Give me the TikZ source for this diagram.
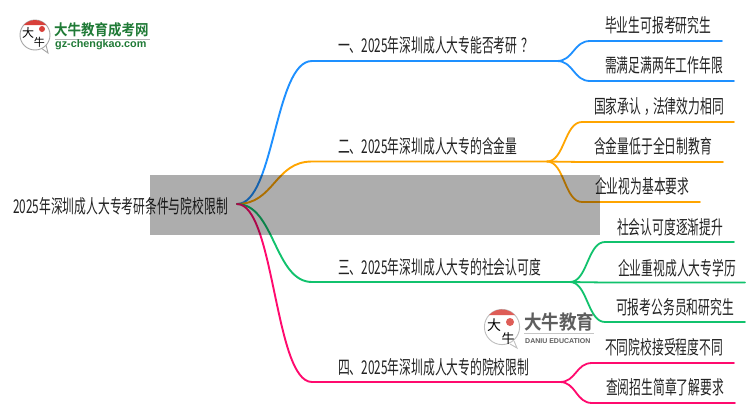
\documentclass[tikz,border=0pt]{standalone}
\usepackage{fontspec}
\newfontfamily\cjk[FakeStretch=0.62]{Noto Sans CJK SC}
\newfontfamily\cjkthin{Noto Sans CJK SC}
\newfontfamily\cjkb[FakeStretch=0.9]{Noto Sans CJK SC Bold}
\newfontfamily\latb{Liberation Sans}
\usetikzlibrary{calc}
\definecolor{cblue}{HTML}{1E90FF}
\definecolor{corange}{HTML}{FFA500}
\definecolor{cgreen}{HTML}{11C26D}
\definecolor{cpink}{HTML}{FF0A6E}
\definecolor{ltext}{HTML}{222222}
\definecolor{lgreen}{HTML}{1F7A36}
\definecolor{lred}{HTML}{D8403A}
\definecolor{lgray}{HTML}{5E5E5E}
\tikzset{
  lbl/.style={inner sep=0pt,anchor=west,text=ltext,font=\fontsize{19}{21}\selectfont\cjk},
  trunk/.style={line width=1.9pt,line cap=round},
  twig/.style={line width=1.8pt,line cap=round},
  mask/.style={fill=black,fill opacity=0.32,draw=none},
  logomark/.style={inner sep=0pt,text=black}
}
\newcommand{\scurve}[4][]{\coordinate (tmpm) at ($(#2)!0.5!(#3)$);\draw[#1] (#2) .. controls (tmpm |- #2) and (tmpm |- #3) .. (#3) -- (#4);}
\begin{document}
\begin{tikzpicture}[x=1pt,y=-1pt]
\useasboundingbox (0,0) rectangle (750,410);
\fill[white] (0,0) rectangle (750,410);
% root
\node[lbl] (root) at (13,206) {2025年深圳成人大专考研条件与院校限制};
\coordinate (r) at (237,204);
% branch labels
\node[lbl] (b1) at (338,45) {一、2025年深圳成人大专能否考研\kern4pt？\kern-4pt};
\node[lbl] (b2) at (338,146) {二、2025年深圳成人大专的含金量};
\node[lbl] (b3) at (338,267) {三、2025年深圳成人大专的社会认可度};
\node[lbl] (b4) at (338,367) {四、2025年深圳成人大专的院校限制};
% leaf labels
\node[lbl] (l11) at (605,25) {毕业生可报考研究生};
\node[lbl] (l12) at (605,65) {需满足满两年工作年限};
\node[lbl] (l21) at (594,106) {国家承认\kern3pt，\kern-3pt法律效力相同};
\node[lbl] (l22) at (594,146) {含金量低于全日制教育};
\node[lbl] (l23) at (595,186) {企业视为基本要求};
\node[lbl] (l31) at (617,227) {社会认可度逐渐提升};
\node[lbl] (l32) at (618,268) {企业重视成人大专学历};
\node[lbl] (l33) at (616,307) {可报考公务员和研究生};
\node[lbl] (l41) at (605,347) {不同院校接受程度不同};
\node[lbl] (l42) at (606,387) {查阅招生简章了解要求};
% junctions
\coordinate (b1a) at (312,61); \coordinate (b1z) at (557,61);
\coordinate (b2a) at (312,161.5); \coordinate (b2z) at (547,161.5);
\coordinate (b3a) at (312,282); \coordinate (b3z) at (570,282);
\coordinate (b4a) at (312,382); \coordinate (b4z) at (560,382);
\coordinate (e11a) at (590,41); \coordinate (e11z) at (722,41);
\coordinate (e12a) at (590,81); \coordinate (e12z) at (734,81);
\coordinate (e21a) at (582,122); \coordinate (e21z) at (734,122);
\coordinate (e22a) at (582,162); \coordinate (e22z) at (723,162);
\coordinate (e23a) at (582,202); \coordinate (e23z) at (700,202);
\coordinate (e31a) at (605,242); \coordinate (e31z) at (734,242);
\coordinate (e32a) at (605,282.5); \coordinate (e32z) at (745,282.5);
\coordinate (e33a) at (605,322); \coordinate (e33z) at (745,322);
\coordinate (e41a) at (592,363); \coordinate (e41z) at (734,363);
\coordinate (e42a) at (592,403); \coordinate (e42z) at (735,403);
% connectors
\scurve[trunk,cblue]{r}{b1a}{b1z}
\scurve[trunk,corange]{r}{b2a}{b2z}
\scurve[trunk,cgreen]{r}{b3a}{b3z}
\scurve[trunk,cpink]{r}{b4a}{b4z}
\scurve[twig,cblue]{b1z}{e11a}{e11z}
\scurve[twig,cblue]{b1z}{e12a}{e12z}
\scurve[twig,corange]{b2z}{e21a}{e21z}
\scurve[twig,corange]{b2z}{e22a}{e22z}
\scurve[twig,corange]{b2z}{e23a}{e23z}
\scurve[twig,cgreen]{b3z}{e31a}{e31z}
\scurve[twig,cgreen]{b3z}{e32a}{e32z}
\scurve[twig,cgreen]{b3z}{e33a}{e33z}
\scurve[twig,cpink]{b4z}{e41a}{e41z}
\scurve[twig,cpink]{b4z}{e42a}{e42z}
% grey band
\fill[mask] (150,175) rectangle (600,235);
% logo top-left
\draw[gray!70,line width=0.9pt,fill=white] (41,48) -- (48,53) -- (46,45);
\draw[gray!70,line width=0.9pt,fill=white] (35,35) circle (15);
\fill[lred] (23.9,25) arc (222:318:15) -- cycle;
\fill[lred] (42,29) circle (3);
\node[logomark,font=\fontsize{12}{12}\selectfont\cjkthin] (lga) at (28,33) {大};
\node[logomark,font=\fontsize{11}{11}\selectfont\cjkthin] (lgb) at (39.5,42.5) {牛};
\node[inner sep=0pt,anchor=west,font=\fontsize{15}{16}\selectfont\cjkb,text=lgreen] (lgc) at (54,30) {大牛教育成考网};
\draw[gray!60,line width=1pt] (55,39) -- (150,39);
\node[inner sep=0pt,anchor=west,font=\fontsize{10.8}{11}\selectfont\latb\bfseries,text=lgreen] (lgd) at (55,45) {gz-chengkao.com};
% logo lower
\draw[gray!50,line width=0.9pt,fill=white] (510,344) -- (517,348) -- (514,341);
\draw[gray!50,line width=0.9pt,fill=white] (502,327) circle (17.6);
\fill[lred!85] (488.9,315.2) arc (222:318:17.6) -- cycle;
\fill[lred!85] (510,322) circle (4);
\node[logomark,font=\fontsize{14}{14}\selectfont\cjkthin] (lge) at (494,325.5) {大};
\node[logomark,font=\fontsize{13}{13}\selectfont\cjkthin] (lgf) at (508,338.5) {牛};
\node[inner sep=0pt,anchor=west,font=\fontsize{19.5}{20}\selectfont\cjkb,text=lgray] (lgg) at (524,322) {大牛教育};
\draw[gray!45,line width=0.7pt] (524,333) -- (594,333);
\node[inner sep=0pt,anchor=west,font=\fontsize{7}{8}\selectfont\latb\bfseries,text=lgray] (lgh) at (525,341) {DANIU EDUCATION};
\end{tikzpicture}
\end{document}
